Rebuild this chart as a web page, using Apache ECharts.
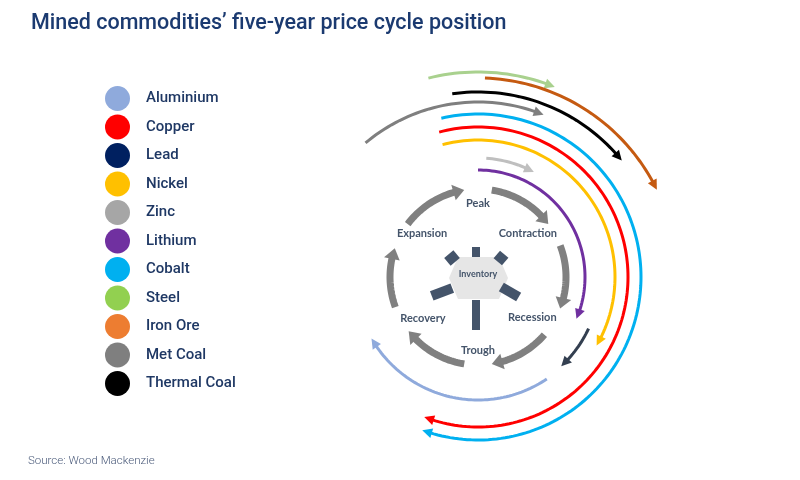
<!DOCTYPE html>
<html>
<head>
<meta charset="utf-8">
<script src="https://cdn.jsdelivr.net/npm/echarts@6/dist/echarts.min.js"></script>
<style>
html,body{margin:0;padding:0;background:#fff;}
#chart{width:800px;height:480px;}
</style>
</head>
<body>
<div id="chart"></div>
<script>
// ---- data ----
const commodities = ['Aluminium','Copper','Lead','Nickel','Zinc','Lithium','Cobalt','Steel','Iron Ore','Met Coal','Thermal Coal'];
const legendColors = ['#8faadc','#ff0000','#002060','#ffc000','#a6a6a6','#7030a0','#00b0f0','#92d050','#ed7d31','#7f7f7f','#000000'];
const arcColors = ['#8faadc','#ff0000','#333f50','#ffc000','#bfbfbf','#7030a0','#00b0f0','#a9d18e','#c55a11','#7f7f7f','#000000'];
// arc radius (px in polar scale), start angle and end (arrow) angle, degrees counter-clockwise from east
const arcRadius = [123, 150, 122, 137, 119, 107, 163, 205, 199, 175, 185];
const arcStart  = [-56, 105, -25, 105,  86,  90, 103, 104,  88, 130,  98];
const arcEnd    = [-150,-111,-47, -30,  62, -23,-110,  68,  26,  68,  39];

const phases = ['Peak','Contraction','Recession','Trough','Recovery','Expansion'];
const phaseAngle  = [90, 41, -37, -90, 217, 142];
const phaseRadius = [74, 66, 68, 73, 69, 71];
const cycleStart = [81, 21, -41, -99, 200, 143];
const cycleEnd   = [37, -21, -81, -142, 161, 99];
const cycleRadius = 88;

const titleText = 'Mined commodities\u2019 five-year price cycle position';
const sourceText = 'Source: Wood Mackenzie';

// ---- helpers ----
function norm(a){ return ((a % 360) + 360) % 360; }
function arrowArc(api, r, a0, a1, lw, headLen, headW, color){
  const sign = a1 < a0 ? -1 : 1;
  const headDeg = headLen / r * 180 / Math.PI;
  const ab = a1 - sign * headDeg;
  const shaftEnd = ab + sign * 0.8;
  const n = Math.max(8, Math.ceil(Math.abs(shaftEnd - a0) / 1.5));
  const pts = [];
  for (let i = 0; i <= n; i++) {
    const a = a0 + (shaftEnd - a0) * i / n;
    pts.push(api.coord([r, norm(a)]));
  }
  const head = [
    api.coord([r, norm(a1)]),
    api.coord([r + headW / 2, norm(ab)]),
    api.coord([r - headW / 2, norm(ab)])
  ];
  return [
    {type:'polyline', shape:{points:pts}, style:{stroke:color, lineWidth:lw, fill:null, lineCap:'butt'}},
    {type:'polygon', shape:{points:head}, style:{fill:color}}
  ];
}

const commoditySeries = commodities.map((name, i) => ({
  type: 'custom',
  name: name,
  coordinateSystem: 'polar',
  clip: false,
  silent: true,
  itemStyle: {color: legendColors[i]},
  data: [[arcRadius[i], arcStart[i], arcEnd[i]]],
  renderItem: function(params, api){
    return {type:'group', children: arrowArc(api, api.value(0), api.value(1), api.value(2), 3, 10, 10, arcColors[i])};
  },
  z: 3
}));

const cycleSeries = {
  type: 'custom',
  name: 'cycle',
  coordinateSystem: 'polar',
  clip: false,
  silent: true,
  data: cycleStart.map((s, i) => [cycleRadius, s, cycleEnd[i]]),
  renderItem: function(params, api){
    return {type:'group', children: arrowArc(api, api.value(0), api.value(1), api.value(2), 7, 11, 16, '#808080')};
  },
  z: 2
};

const phaseSeries = {
  type: 'custom',
  name: 'phases',
  coordinateSystem: 'polar',
  clip: false,
  silent: true,
  data: phases.map((p, i) => [phaseRadius[i], norm(phaseAngle[i])]),
  renderItem: function(params, api){
    const p = api.coord([api.value(0), api.value(1)]);
    return {type:'text', x:p[0], y:p[1], style:{text: phases[params.dataIndex], fill:'#44546a', font:'bold 11px Lato, sans-serif', align:'center', verticalAlign:'middle'}};
  },
  z: 4
};

// inventory decoration (around the polar centre)
const cx = 478, cy = 277;
const barColor = '#44546a';
function bar(x, y, len, w, rotDeg){
  return {type:'rect', x:x, y:y, rotation: rotDeg*Math.PI/180, shape:{x:-len/2, y:-w/2, width:len, height:w}, style:{fill:barColor}, z:5};
}

const chart = echarts.init(document.getElementById('chart'), null, {renderer:'canvas'});
chart.setOption({
  backgroundColor:'#ffffff',
  animation:false,
  title:{
    text:titleText, left:31, top:13, padding:0,
    textStyle:{fontFamily:'Roboto', fontSize:21.5, fontWeight:500, color:'#1b3a70'}
  },
  legend:{
    orient:'vertical', left:105, top:86, padding:0,
    icon:'circle', itemWidth:25, itemHeight:25, itemGap:3.5,
    selectedMode:false,
    textStyle:{fontFamily:'Roboto', fontSize:15, fontWeight:500, color:'#1f3864', padding:[0,0,0,11]},
    data: commodities.map((n, i) => ({name:n, itemStyle:{color:legendColors[i]}}))
  },
  polar:{center:[cx, cy], radius:220},
  radiusAxis:{min:0, max:220, show:false},
  angleAxis:{min:0, max:360, startAngle:0, clockwise:false, show:false},
  series: [cycleSeries, phaseSeries].concat(commoditySeries),
  graphic:[
    {type:'polygon', shape:{points:[[cx-29,cy+1],[cx-20,cy-20],[cx+21,cy-20],[cx+30,cy+1],[cx+21,cy+22],[cx-20,cy+22]]}, style:{fill:'#e6e6e6'}, z:5},
    {type:'text', x:cx, y:cy-3, style:{text:'Inventory', fill:'#44546a', font:'bold 9px Lato, sans-serif', align:'center', verticalAlign:'middle'}, z:6},
    bar(cx-2, cy-25, 10, 8, 90),
    bar(cx+23, cy-19, 11, 10, 140),
    bar(cx-26, cy-19, 12, 10, 40),
    bar(cx-36, cy+15, 22, 10, 21),
    bar(cx+32, cy+15, 20, 10, -30),
    bar(cx-2, cy+38, 30, 8, 90),
    {type:'text', left:28, top:455, style:{text:sourceText, fill:'#4a5a7a', font:'300 11.5px Roboto, sans-serif'}}
  ]
});
</script>
</body>
</html>
